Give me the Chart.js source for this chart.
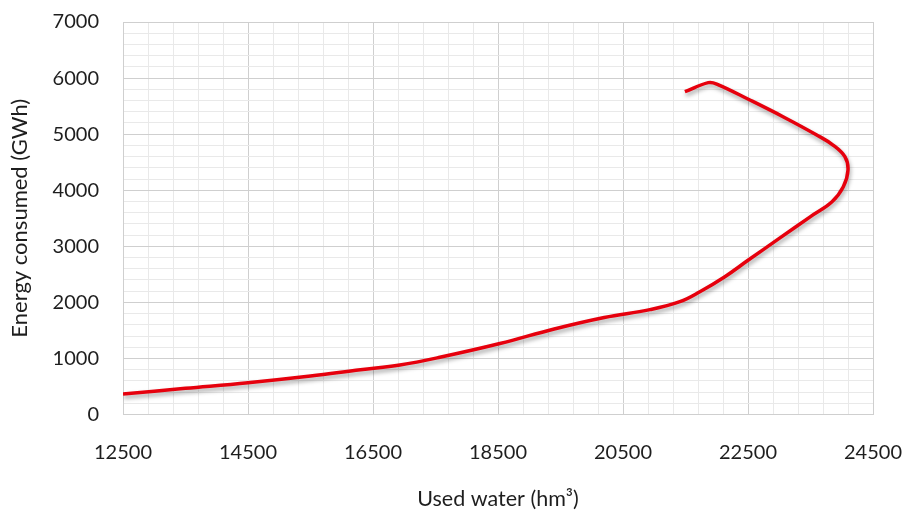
<!DOCTYPE html>
<html>
<head>
<meta charset="utf-8">
<script src="https://cdn.jsdelivr.net/npm/chart.js@4.4.0/dist/chart.umd.min.js"></script>
<style>
html,body{margin:0;padding:0;background:#fff;}
#wrap{width:905px;height:513px;}
</style>
</head>
<body>
<div id="wrap"><canvas id="c" width="905" height="513"></canvas></div>
<script>
const waterUsed = [12500, 13500, 14500, 15500, 16300, 16930, 17570, 18530, 19400, 20200, 20930, 21410, 21730, 22130, 22500, 23000, 23500, 23840, 24025, 24100, 24050, 23860, 23600, 23060, 22530, 22000, 21865, 21490];
const energyConsumed = [365, 467, 567, 687, 800, 883, 1020, 1265, 1525, 1730, 1870, 2012, 2190, 2458, 2750, 3140, 3530, 3790, 4063, 4360, 4598, 4806, 4985, 5311, 5609, 5894, 5918, 5757];
const xMajorTicks = [12500, 14500, 16500, 18500, 20500, 22500, 24500];
const yMajorTicks = [0, 1000, 2000, 3000, 4000, 5000, 6000, 7000];
const xTitle = 'Used water (hm³)';
const yTitle = 'Energy consumed (GWh)';

const points = waterUsed.map((x, i) => ({x: x, y: energyConsumed[i]}));

const shadowPlugin = {
  id: 'lineShadow',
  beforeDatasetDraw(chart) {
    const ctx = chart.ctx;
    ctx.save();
    ctx.shadowColor = 'rgba(0,0,0,0.35)';
    ctx.shadowBlur = 4;
    ctx.shadowOffsetX = 1;
    ctx.shadowOffsetY = 3;
  },
  afterDatasetDraw(chart) {
    chart.ctx.restore();
  }
};

const FONT = 'Lato, "Open Sans", sans-serif';
const majorX = v => xMajorTicks.includes(Math.round(v));
const majorY = v => yMajorTicks.includes(Math.round(v));

new Chart(document.getElementById('c'), {
  type: 'scatter',
  data: {
    datasets: [{
      data: points,
      showLine: true,
      borderColor: '#e6000d',
      borderWidth: 3.5,
      pointRadius: 0,
      tension: 0.4,
      fill: false
    }]
  },
  plugins: [shadowPlugin],
  options: {
    responsive: false,
    animation: false,
    devicePixelRatio: 1,
    layout: {padding: {left: 0, top: 22, right: 32, bottom: 0}},
    plugins: {legend: {display: false}, tooltip: {enabled: false}},
    scales: {
      x: {
        type: 'linear',
        min: 12500,
        max: 24500,
        ticks: {
          stepSize: 400,
          autoSkip: false,
          maxRotation: 0,
          padding: 26,
          color: '#1e1e1e',
          font: {family: FONT, size: 20},
          callback: v => majorX(v) ? String(Math.round(v)) : ''
        },
        grid: {
          drawTicks: false,
          color: ctx => majorX(ctx.tick.value) ? '#cfcfcf' : '#e9e9e9',
          lineWidth: 1
        },
        border: {color: '#cfcfcf'},
        title: {
          display: true,
          text: xTitle,
          color: '#1e1e1e',
          font: {family: FONT, size: 21.5},
          padding: {top: 20, bottom: 1}
        },
        afterFit(scale) {
          scale.height = 98.5;
          scale.paddingLeft = 0;
          scale.paddingRight = 0;
        }
      },
      y: {
        type: 'linear',
        min: 0,
        max: 7000,
        ticks: {
          stepSize: 200,
          autoSkip: false,
          padding: 24,
          color: '#1e1e1e',
          font: {family: FONT, size: 20},
          callback: v => majorY(v) ? String(Math.round(v)) : ''
        },
        grid: {
          drawTicks: false,
          color: ctx => majorY(ctx.tick.value) ? '#cfcfcf' : '#e9e9e9',
          lineWidth: 1
        },
        border: {color: '#cfcfcf'},
        title: {
          display: true,
          text: yTitle,
          color: '#1e1e1e',
          font: {family: FONT, size: 22},
          padding: {top: 7, bottom: 4}
        },
        afterFit(scale) {
          scale.width = 123;
          scale.paddingTop = 0;
          scale.paddingBottom = 0;
        }
      }
    }
  }
});
</script>
</body>
</html>
